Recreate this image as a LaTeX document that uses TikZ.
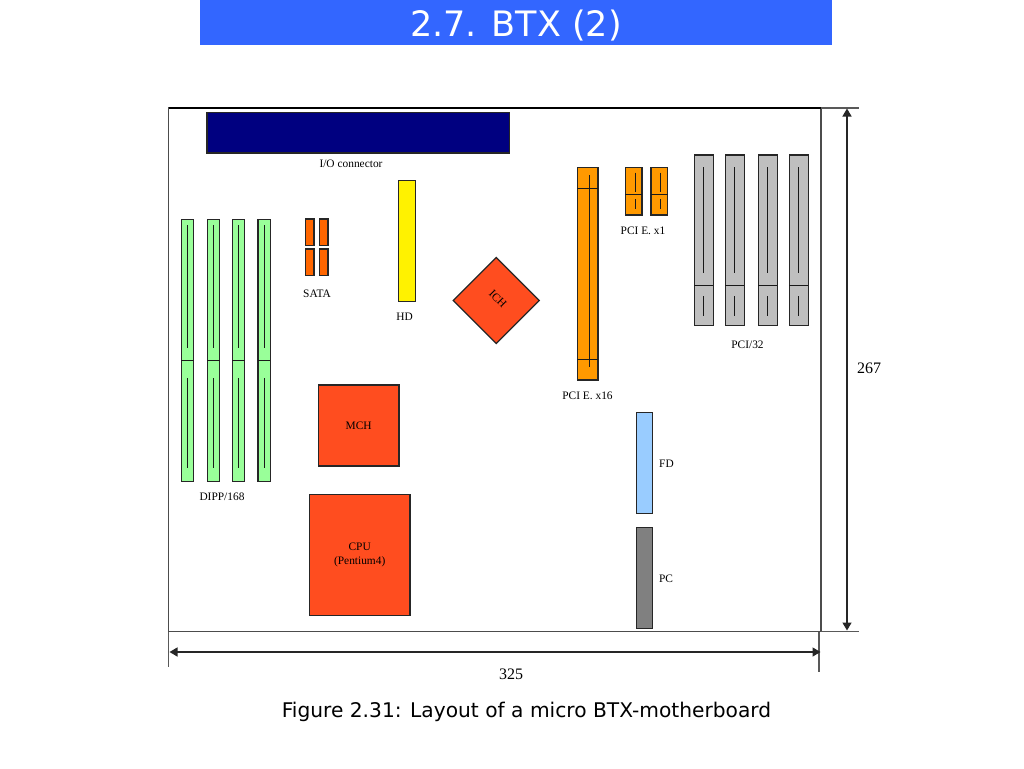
\documentclass[tikz,border=0pt]{standalone}
\usepackage{fontspec}
\setmainfont{Liberation Serif}
\newfontfamily\headfont{DejaVu Sans}
\usetikzlibrary{arrows.meta}
\definecolor{headblue}{RGB}{51,102,255}
\definecolor{ionavy}{RGB}{0,0,128}
\definecolor{dimmgreen}{RGB}{153,255,153}
\definecolor{sataorange}{RGB}{255,102,0}
\definecolor{pciorange}{RGB}{255,153,0}
\definecolor{chipred}{RGB}{255,77,31}
\definecolor{fdblue}{RGB}{153,204,255}
\tikzset{
  part/.style={draw=black!85,line width=1.2pt,inner sep=0pt,outer sep=0pt,minimum width=#1,font=\fontsize{11.4}{13.5}\selectfont,align=center},
  tag/.style={inner sep=0pt,yshift=-.7pt,font=\fontsize{11.4}{13.5}\selectfont,align=center},
  dimtag/.style={inner sep=0pt,yshift=-.5pt,font=\fontsize{16}{18}\selectfont},
  dimline/.style={draw=black!65,line width=1.2pt},
  dimarrow/.style={draw=black!85,line width=1.4pt,{Triangle[length=8pt,width=9pt]}-{Triangle[length=8pt,width=9pt]}},
  slotline/.style={draw=black!90,line width=1pt}
}
\begin{document}
\begin{tikzpicture}[x=1pt,y=-1pt]
\useasboundingbox[fill=white] (0,0) rectangle (1024,768);
% heading
\node[fill=headblue,minimum width=632pt,minimum height=45pt,inner sep=0pt,outer sep=0pt] (head) at (516,22.5) {};
\node[text=white,inner sep=0pt,font=\headfont\fontsize{35}{38}\selectfont] (title) at (516,25.5) {2.7. BTX (2)};
\node[inner sep=0pt,font=\headfont\fontsize{20.2}{23}\selectfont] (caption) at (526.5,712) {Figure 2.31: Layout of a micro BTX-motherboard};
% board and its dimensions
\node[draw=black!70,line width=1.2pt,inner sep=0pt,outer sep=0pt,minimum width=652.5pt,minimum height=523.5pt] (board) at (494.75,369.75) {};
\coordinate (topend) at (859,108);
\coordinate (botend) at (859,631.5);
\coordinate (leftend) at (168.5,667);
\coordinate (rightup) at (819,631.5);
\coordinate (rightend) at (819,672);
\coordinate (vtop) at (847,108.5);
\coordinate (vbot) at (847,630.5);
\coordinate (hleft) at (169.5,652);
\coordinate (hright) at (820.5,652);
\draw[dimline,draw=black] (board.north west) -- (board.north east);
\draw[dimline] (board.north east) -- (topend);
\draw[dimline] (board.south east) -- (botend);
\draw[dimline] (board.south west) -- (leftend);
\draw[dimline] (rightup) -- (rightend);
\draw[dimarrow] (vtop) -- (vbot);
\draw[dimarrow] (hleft) -- (hright);
\node[dimtag] (height) at (869,367.5) {267};
\node[dimtag] (width) at (511,674) {325};
% I/O
\node[part=302.5pt,fill=ionavy,minimum height=40.5pt] (io) at (358.25,132.75) {};
\node[tag] (iotag) at (351,163.5) {I/O connector};
% memory
\node[part=12.4pt,fill=dimmgreen,minimum height=262pt] (dimmA) at (187.5,350.3) {};
\node[part=12.4pt,fill=dimmgreen,minimum height=262pt] (dimmB) at (213.3,350.3) {};
\node[part=12.4pt,fill=dimmgreen,minimum height=262pt] (dimmC) at (238.5,350.3) {};
\node[part=12.4pt,fill=dimmgreen,minimum height=262pt] (dimmD) at (264.2,350.3) {};
\draw[slotline] (dimmA.west |- 0,360.3) -- (dimmA.east |- 0,360.3);
\draw[slotline] (dimmB.west |- 0,360.3) -- (dimmB.east |- 0,360.3);
\draw[slotline] (dimmC.west |- 0,360.3) -- (dimmC.east |- 0,360.3);
\draw[slotline] (dimmD.west |- 0,360.3) -- (dimmD.east |- 0,360.3);
\draw[slotline] (dimmA.center |- 0,225) -- (dimmA.center |- 0,348);
\draw[slotline] (dimmB.center |- 0,225) -- (dimmB.center |- 0,348);
\draw[slotline] (dimmC.center |- 0,225) -- (dimmC.center |- 0,348);
\draw[slotline] (dimmD.center |- 0,225) -- (dimmD.center |- 0,348);
\draw[slotline] (dimmA.center |- 0,378) -- (dimmA.center |- 0,468);
\draw[slotline] (dimmB.center |- 0,378) -- (dimmB.center |- 0,468);
\draw[slotline] (dimmC.center |- 0,378) -- (dimmC.center |- 0,468);
\draw[slotline] (dimmD.center |- 0,378) -- (dimmD.center |- 0,468);
\node[tag] (dimmtag) at (222,496.5) {DIPP/168};
% SATA and HD
\node[part=8.7pt,fill=sataorange,minimum height=26.7pt] (sataA) at (309.7,232.3) {};
\node[part=8.7pt,fill=sataorange,minimum height=26.7pt] (sataB) at (323.7,232.3) {};
\node[part=8.7pt,fill=sataorange,minimum height=26.7pt] (sataC) at (309.7,262.3) {};
\node[part=8.7pt,fill=sataorange,minimum height=26.7pt] (sataD) at (323.7,262.3) {};
\node[tag] (satatag) at (317,293.5) {SATA};
\node[part=17pt,fill=yellow,minimum height=121.4pt] (hd) at (406.8,241) {};
\node[tag] (hdtag) at (404.5,316) {HD};
% chips
\node[part=60.8pt,fill=chipred,minimum height=60.8pt,rotate=-45] (ich) at (496.3,300.5) {\raisebox{4.5pt}{ICH}};
\node[part=80.7pt,fill=chipred,minimum height=81pt] (mch) at (358.7,425.5) {MCH};
\node[part=100.7pt,fill=chipred,minimum height=121.4pt] (cpu) at (359.7,555) {CPU\\(Pentium4)};
% PCI express
\node[part=20.7pt,fill=pciorange,minimum height=212.3pt] (xvi) at (587.7,273.8) {};
\draw[slotline] (xvi.west |- 0,188.3) -- (xvi.east |- 0,188.3);
\draw[slotline] (xvi.west |- 0,359.3) -- (xvi.east |- 0,359.3);
\draw[slotline] (589.3,175) -- (589.3,366.7);
\node[tag] (xvitag) at (587.5,395) {PCI E. x16};
\node[part=16.7pt,fill=pciorange,minimum height=47.3pt] (xiA) at (633.7,191.3) {};
\node[part=16.7pt,fill=pciorange,minimum height=47.3pt] (xiB) at (659.3,191.3) {};
\draw[slotline] (xiA.west |- 0,194.7) -- (xiA.east |- 0,194.7);
\draw[slotline] (xiB.west |- 0,194.7) -- (xiB.east |- 0,194.7);
\draw[slotline] (635,172.7) -- (635,191.7);
\draw[slotline] (660.7,172.7) -- (660.7,191.7);
\draw[slotline] (635,199) -- (635,209.3);
\draw[slotline] (660.7,199) -- (660.7,209.3);
\node[tag] (xitag) at (643,230) {PCI E. x1};
% PCI
\node[part=19pt,fill=black!25,minimum height=170.3pt] (pciA) at (703.8,240.2) {};
\node[part=19pt,fill=black!25,minimum height=170.3pt] (pciB) at (734.8,240.2) {};
\node[part=19pt,fill=black!25,minimum height=170.3pt] (pciC) at (767.7,240.2) {};
\node[part=19pt,fill=black!25,minimum height=170.3pt] (pciD) at (798.7,240.2) {};
\draw[slotline] (pciA.west |- 0,285) -- (pciA.east |- 0,285);
\draw[slotline] (pciB.west |- 0,285) -- (pciB.east |- 0,285);
\draw[slotline] (pciC.west |- 0,285) -- (pciC.east |- 0,285);
\draw[slotline] (pciD.west |- 0,285) -- (pciD.east |- 0,285);
\draw[slotline] (703.3,167.3) -- (703.3,272.7);
\draw[slotline] (734.3,167.3) -- (734.3,272.7);
\draw[slotline] (767.3,167.3) -- (767.3,272.7);
\draw[slotline] (798.3,167.3) -- (798.3,272.7);
\draw[slotline] (703.3,296) -- (703.3,316);
\draw[slotline] (734.3,296) -- (734.3,316);
\draw[slotline] (767.3,296) -- (767.3,316);
\draw[slotline] (798.3,296) -- (798.3,316);
\node[tag] (pcitag) at (747.5,344) {PCI/32};
% FD and PC
\node[part=16.4pt,fill=fdblue,minimum height=101pt] (fd) at (644.5,462.8) {};
\node[tag] (fdtag) at (666.5,463.5) {FD};
\node[part=16.4pt,fill=black!50,minimum height=101.4pt] (pc) at (644.5,578) {};
\node[tag] (pctag) at (666,578.5) {PC};
\end{tikzpicture}
\end{document}
